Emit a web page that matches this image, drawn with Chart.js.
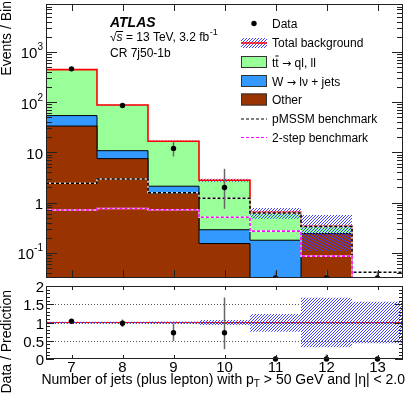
<!DOCTYPE html>
<html>
<head>
<meta charset="utf-8">
<script src="https://cdn.jsdelivr.net/npm/chart.js@4.4.1/dist/chart.umd.min.js"></script>
<style>
html, body { margin: 0; padding: 0; background: #fff; width: 407px; height: 393px; overflow: hidden; }
canvas { position: absolute; left: 0; }
#main-chart { top: 0; }
#ratio-chart { top: 282px; }
</style>
</head>
<body>
<canvas id="main-chart" width="407" height="282"></canvas>
<canvas id="ratio-chart" width="407" height="111"></canvas>
<script>
/**************************************************************
                     DATA
***************************************************************/
let nJets = [7, 8, 9, 10, 11, 12, 13]
let dataCounts = [460, 86, 12, 2, 0, 0, 0]
let dataLow = [439, 77, 8.3, 0.75, 0, 0, 0]
let dataHigh = [481, 95, 16.2, 4.7, 0.043, 0.043, 0.043]
let otherBkg = [33.4, 7.5, 1.53, 0.153, 0, 0.24, 0]
let wJets = [20.6, 3.3, 0.59, 0.135, 0.178, 0, 0]
let ttbar = [391, 77, 14.58, 2.5, 0.459, 0.098, 0]
let pmssmBench = [2.43, 2.95, 1.57, 1.22, 0.62, 0.334, 0.041]
let twoStepBench = [0.71, 0.76, 0.72, 0.51, 0.27, 0.086, 0.030]
let bandLow = [0.98, 0.98, 0.97, 0.93, 0.75, 0.32, 0.43]
let bandHigh = [1.02, 1.02, 1.03, 1.07, 1.23, 1.68, 1.57]
let logTicks = [0.1, 1, 10, 100, 1000]
let logTickLabels = [['10', '-1'], ['1', ''], ['10', ''], ['10', '2'], ['10', '3']]
let ratioTicks = [0, 0.5, 1, 1.5, 2]
let ratioTickLabels = ['0', '0.5', '1', '1.5', '2']

const Y_MIN = 0.0315, Y_MAX = 9000, FLOOR = 1e-4
const FONT = "'Liberation Sans', Arial, sans-serif"
const GREEN = '#99ff99', BLUE = '#3399ff', BROWN = '#993300'

let cumW = otherBkg.map((v, i) => v + wJets[i])
let total = cumW.map((v, i) => v + ttbar[i])
let ratio = dataCounts.map((d, i) => total[i] > 0 ? d / total[i] : 0)

/*** histogram -> step points at bin edges ***/
function stepPts(vals) {
    let pts = vals.map((v, i) => ({ x: nJets[i] - 0.5, y: v > 0 ? v : FLOOR }))
    pts.push({ x: nJets[nJets.length - 1] + 0.5, y: pts[pts.length - 1].y })
    return pts
}

/*** blue hatch pattern ***/
let patCanvas = document.createElement('canvas')
patCanvas.width = 3; patCanvas.height = 3
let pctx = patCanvas.getContext('2d')
pctx.fillStyle = '#4040ff'
for (let i = 0; i < 3; i++) pctx.fillRect(i, 2 - i, 1, 1)
let hatch = pctx.createPattern(patCanvas, 'repeat')

function stepLine(vals, color, width, dash, fill, bg) {
    return {
        data: stepPts(vals), stepped: true, borderColor: color, borderWidth: width,
        borderDash: dash || [], fill: fill === undefined ? false : fill,
        backgroundColor: bg || 'transparent', pointRadius: 0
    }
}

/*** error bars drawn before the data markers ***/
function errorBars(index, low, high) {
    return {
        id: 'errbars' + index,
        beforeDatasetDraw(chart, args) {
            if (args.index !== index) return
            let ctx = chart.ctx, x = chart.scales.x, y = chart.scales.y, ca = chart.chartArea
            ctx.save()
            ctx.beginPath(); ctx.rect(ca.left, ca.top, ca.right - ca.left, ca.bottom - ca.top); ctx.clip()
            ctx.strokeStyle = '#666'; ctx.lineWidth = 1.5
            nJets.forEach((n, i) => {
                if (!(high[i] > low[i])) return
                let px = x.getPixelForValue(n)
                let y0 = low[i] > 0 ? y.getPixelForValue(low[i]) : ca.bottom + 5
                ctx.beginPath(); ctx.moveTo(px, y0); ctx.lineTo(px, y.getPixelForValue(high[i])); ctx.stroke()
            })
            ctx.restore()
        }
    }
}

function drawFrame(ctx, ca) {
    ctx.strokeStyle = '#222'; ctx.lineWidth = 1
    ctx.strokeRect(Math.floor(ca.left) + 0.5, Math.floor(ca.top) + 0.5,
        Math.round(ca.right - ca.left) - 1, Math.round(ca.bottom - ca.top) - 1)
}

function vTick(ctx, y, len, ca) {
    ctx.beginPath(); ctx.moveTo(ca.left, y); ctx.lineTo(ca.left + len, y)
    ctx.moveTo(ca.right, y); ctx.lineTo(ca.right - len, y); ctx.stroke()
}

/*** text pieces, arrow drawn with DejaVu so it has full size ***/
function drawPieces(ctx, pieces, x, y) {
    pieces.forEach(p => {
        ctx.font = p.arrow ? "11px 'DejaVu Sans'" : '12px ' + FONT
        ctx.fillText(p.t, x, y)
        x += ctx.measureText(p.t).width
    })
}

/**************************************************************
                     MAIN PANEL
***************************************************************/
let mainDecor = {
    id: 'mainDecor',
    afterDraw(chart) {
        let ctx = chart.ctx, ca = chart.chartArea, x = chart.scales.x, y = chart.scales.y
        ctx.save()
        drawFrame(ctx, ca)
        ctx.strokeStyle = '#222'; ctx.lineWidth = 1
        // log ticks
        for (let e = -2; e <= 3; e++) {
            for (let k = 1; k <= 9; k++) {
                let v = k * Math.pow(10, e)
                if (v < Y_MIN || v > Y_MAX) continue
                let py = Math.round(y.getPixelForValue(v)) + 0.5
                vTick(ctx, py, k === 1 ? 11 : 6, ca)
            }
        }
        // x ticks
        nJets.forEach(n => {
            let px = Math.round(x.getPixelForValue(n)) + 0.5
            ctx.beginPath(); ctx.moveTo(px, ca.bottom); ctx.lineTo(px, ca.bottom - 8)
            ctx.moveTo(px, ca.top); ctx.lineTo(px, ca.top + 7); ctx.stroke()
        })
        // tick labels
        ctx.fillStyle = '#000'; ctx.textBaseline = 'alphabetic'
        logTicks.forEach((v, i) => {
            let py = y.getPixelForValue(v) + 6.5
            let [base, sup] = logTickLabels[i]
            ctx.font = '10px ' + FONT
            let supW = sup ? ctx.measureText(sup).width : 0
            ctx.textAlign = 'right'
            if (sup) ctx.fillText(sup, 43, py - 8)
            ctx.font = '15px ' + FONT
            ctx.fillText(base, 43 - supW, py)
        })
        // y title
        ctx.save()
        ctx.translate(11, 1); ctx.rotate(-Math.PI / 2)
        ctx.font = '14px ' + FONT; ctx.textAlign = 'right'
        ctx.fillText('Events / Bin', 0, 0)
        ctx.restore()
        // ATLAS label
        ctx.textAlign = 'left'
        ctx.font = 'italic bold 14px ' + FONT
        ctx.fillText('ATLAS', 110, 27)
        ctx.font = '12px ' + FONT
        ctx.fillText('\u221A', 110, 40.5)
        let sx = 110 + ctx.measureText('\u221A').width
        ctx.font = 'italic 12px ' + FONT
        ctx.fillText('s', sx, 40.5)
        let sw = ctx.measureText('s').width
        ctx.beginPath(); ctx.moveTo(sx - 0.5, 31.5); ctx.lineTo(sx + sw + 0.5, 31.5); ctx.strokeStyle = '#000'; ctx.stroke()
        ctx.font = '12px ' + FONT
        let txt = ' = 13 TeV, 3.2 fb'
        ctx.fillText(txt, sx + sw, 40.5)
        let ex = sx + sw + ctx.measureText(txt).width
        ctx.font = '9px ' + FONT
        ctx.fillText('-1', ex + 0.5, 35)
        ctx.font = '12px ' + FONT
        ctx.fillText('CR 7j50-1b', 110, 57)
        // legend
        let rows = [27.5, 47, 66.5, 85.5, 104, 123, 141.5]
        let bx = 241, bw = 26, tx = 272
        ctx.fillStyle = '#000'
        ctx.beginPath(); ctx.arc(254, rows[0] - 4, 2.7, 0, Math.PI * 2); ctx.fill()
        ctx.fillStyle = hatch; ctx.fillRect(bx, rows[1] - 9, bw, 10)
        ctx.strokeStyle = '#ff0000'; ctx.lineWidth = 1.5
        ctx.beginPath(); ctx.moveTo(bx, rows[1] - 4); ctx.lineTo(bx + bw, rows[1] - 4); ctx.stroke()
        let boxes = [[GREEN, rows[2]], [BLUE, rows[3]], [BROWN, rows[4]]]
        ctx.lineWidth = 1; ctx.strokeStyle = '#333'
        boxes.forEach(([c, r]) => {
            ctx.fillStyle = c; ctx.fillRect(bx, r - 10.5, bw, 12)
            ctx.strokeRect(bx + 0.5, r - 10, bw - 1, 11)
        })
        ctx.setLineDash([3, 2]); ctx.lineWidth = 1.2
        ctx.strokeStyle = '#000'
        ctx.beginPath(); ctx.moveTo(bx, rows[5] - 4); ctx.lineTo(bx + bw, rows[5] - 4); ctx.stroke()
        ctx.strokeStyle = '#ff00ff'
        ctx.beginPath(); ctx.moveTo(bx, rows[6] - 4); ctx.lineTo(bx + bw, rows[6] - 4); ctx.stroke()
        ctx.setLineDash([])
        ctx.fillStyle = '#000'; ctx.font = '12px ' + FONT
        ctx.fillText('Data', tx, rows[0])
        ctx.fillText('Total background', tx, rows[1])
        drawPieces(ctx, [{ t: 'tt ' }, { t: '\u2192', arrow: true }, { t: ' ql, ll' }], tx, rows[2])
        ctx.font = '12px ' + FONT
        let tw = ctx.measureText('t').width
        ctx.lineWidth = 1; ctx.strokeStyle = '#000'
        ctx.beginPath(); ctx.moveTo(tx + tw, rows[2] - 10.5); ctx.lineTo(tx + 2 * tw, rows[2] - 10.5); ctx.stroke()
        drawPieces(ctx, [{ t: 'W ' }, { t: '\u2192', arrow: true }, { t: ' l\u03BD + jets' }], tx, rows[3])
        ctx.font = '12px ' + FONT
        ctx.fillText('Other', tx, rows[4])
        ctx.fillText('pMSSM benchmark', tx, rows[5])
        ctx.fillText('2-step benchmark', tx, rows[6])
        ctx.restore()
    }
}

let mainChart = new Chart(document.getElementById('main-chart').getContext('2d'), {
    type: 'line',
    data: {
        datasets: [
            { data: nJets.map((n, i) => ({ x: n, y: dataCounts[i] > 0 ? dataCounts[i] : Y_MIN })),
              showLine: false, pointRadius: 2.7, pointBackgroundColor: '#000', pointBorderWidth: 0 },
            stepLine(twoStepBench, '#ff00ff', 1.6, [3, 2]),
            stepLine(twoStepBench, 'rgba(255,255,255,0.8)', 1.6),
            stepLine(pmssmBench, '#000', 1.6, [3, 2]),
            stepLine(pmssmBench, 'rgba(255,255,255,0.8)', 1.6),
            stepLine(total, '#ff0000', 1.6),
            stepLine(total.map((t, i) => t * bandHigh[i]), 'transparent', 0, null, 7, hatch),
            stepLine(total.map((t, i) => t * bandLow[i]), 'transparent', 0),
            stepLine(otherBkg, '#000', 1, null, 'start', BROWN),
            stepLine(cumW, '#000', 1, null, 'start', BLUE),
            stepLine(total, 'transparent', 0, null, 'start', GREEN)
        ]
    },
    options: {
        responsive: false, animation: false, events: [],
        layout: { padding: { left: 46, right: 2, top: 0, bottom: 4 } },
        plugins: { legend: { display: false }, tooltip: { enabled: false } },
        scales: {
            x: { type: 'linear', min: 6.5, max: 13.5, display: false },
            y: { type: 'logarithmic', min: Y_MIN, max: Y_MAX, display: false }
        }
    },
    plugins: [errorBars(0, dataLow, dataHigh), mainDecor]
})

/**************************************************************
                     RATIO PANEL
***************************************************************/
let ratioDecor = {
    id: 'ratioDecor',
    beforeDatasetsDraw(chart) {
        let ctx = chart.ctx, ca = chart.chartArea, y = chart.scales.y
        ctx.save()
        ctx.strokeStyle = '#555'; ctx.lineWidth = 1; ctx.setLineDash([1, 2])
        ;[0.5, 1, 1.5].forEach(v => {
            let py = Math.round(y.getPixelForValue(v)) + 0.5
            ctx.beginPath(); ctx.moveTo(ca.left, py); ctx.lineTo(ca.right, py); ctx.stroke()
        })
        ctx.restore()
    },
    afterDraw(chart) {
        let ctx = chart.ctx, ca = chart.chartArea, x = chart.scales.x, y = chart.scales.y
        ctx.save()
        drawFrame(ctx, ca)
        ctx.strokeStyle = '#222'; ctx.lineWidth = 1
        for (let k = 0; k <= 20; k++) {
            let py = Math.round(y.getPixelForValue(k / 10)) + 0.5
            vTick(ctx, py, k % 5 === 0 ? 8 : 4, ca)
        }
        nJets.forEach(n => {
            let px = Math.round(x.getPixelForValue(n)) + 0.5
            ctx.beginPath(); ctx.moveTo(px, ca.bottom); ctx.lineTo(px, ca.bottom - 4)
            ctx.moveTo(px, ca.top); ctx.lineTo(px, ca.top + 4); ctx.stroke()
        })
        ctx.fillStyle = '#000'; ctx.font = '15px ' + FONT
        ctx.textAlign = 'right'
        ratioTicks.forEach((v, i) => ctx.fillText(ratioTickLabels[i], 44, y.getPixelForValue(v) + 6))
        ctx.textAlign = 'center'
        nJets.forEach(n => ctx.fillText(String(n), x.getPixelForValue(n), 90))
        // x title with p_T subscript
        ctx.font = '14px ' + FONT; ctx.textAlign = 'left'
        let a = 'Number of jets (plus lepton) with p', b = ' > 50 GeV and |\u03B7| < 2.0'
        let wa = ctx.measureText(a).width, wb = ctx.measureText(b).width
        ctx.font = '10px ' + FONT
        let wt = ctx.measureText('T').width
        let x0 = 405 - wa - wt - wb
        ctx.fillText('T', x0 + wa, 105)
        ctx.font = '14px ' + FONT
        ctx.fillText(a, x0, 102)
        ctx.fillText(b, x0 + wa + wt, 102)
        // y title
        ctx.translate(11, 8); ctx.rotate(-Math.PI / 2)
        ctx.textAlign = 'right'
        ctx.fillText('Data / Prediction', 0, 0)
        ctx.restore()
    }
}

let ratioLow = dataLow.map((v, i) => total[i] > 0 ? v / total[i] : 0)
let ratioHigh = dataHigh.map((v, i) => total[i] > 0 ? v / total[i] : 0)
let flat = [{ x: 6.5, y: 1 }, { x: 13.5, y: 1 }]

let ratioChart = new Chart(document.getElementById('ratio-chart').getContext('2d'), {
    type: 'line',
    data: {
        datasets: [
            { data: nJets.map((n, i) => ({ x: n, y: ratio[i] })), showLine: false, clip: false,
              pointRadius: 2.7, pointBackgroundColor: '#000', pointBorderWidth: 0 },
            { data: flat, borderColor: '#ff0000', borderWidth: 1.2, borderDash: [3, 2], pointRadius: 0 },
            { data: flat, borderColor: '#4444ff', borderWidth: 1.2, pointRadius: 0 },
            { data: stepPts(bandHigh), stepped: true, borderWidth: 0, pointRadius: 0, fill: 4, backgroundColor: hatch },
            { data: stepPts(bandLow), stepped: true, borderWidth: 0, pointRadius: 0, fill: false }
        ]
    },
    options: {
        responsive: false, animation: false, events: [],
        layout: { padding: { left: 46, right: 2, top: 3, bottom: 34 } },
        plugins: { legend: { display: false }, tooltip: { enabled: false } },
        scales: {
            x: { type: 'linear', min: 6.5, max: 13.5, display: false },
            y: { type: 'linear', min: 0, max: 2, display: false }
        }
    },
    plugins: [errorBars(0, ratioLow, ratioHigh), ratioDecor]
})
</script>
</body>
</html>
